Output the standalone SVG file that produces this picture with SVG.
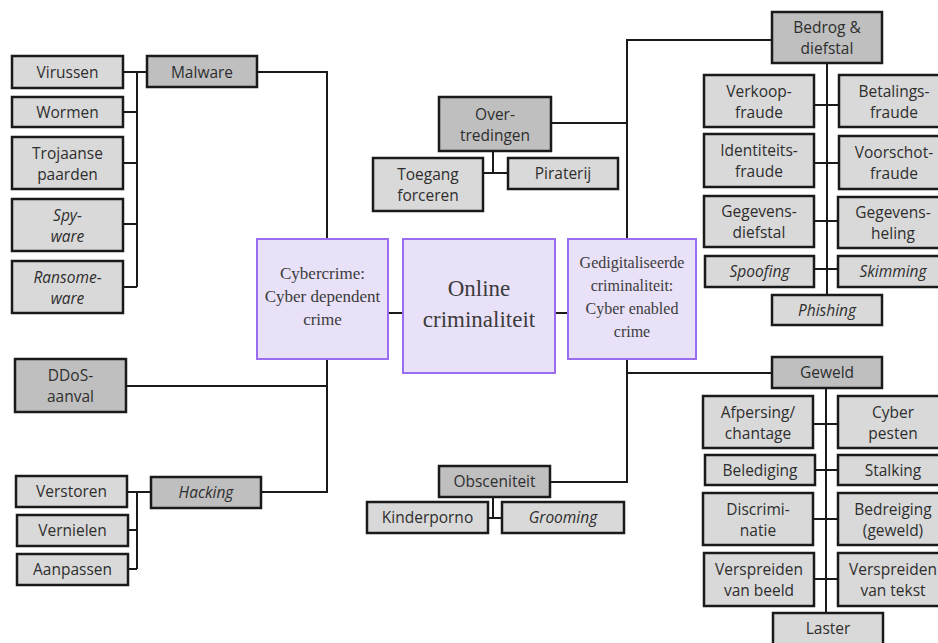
<svg xmlns="http://www.w3.org/2000/svg" width="938" height="643" viewBox="0 0 938 643">
<style>
.lt{fill:#d9d9d9;stroke:#1a1a1a;stroke-width:2.5}
.dk{fill:#bfbfbf;stroke:#1a1a1a;stroke-width:2.5}
.pu{fill:#e8e1f8;stroke:#9a6cf0;stroke-width:2}
.t{font-family:"Open Sans","Noto Sans",sans-serif;font-size:15.5px;fill:#2e2e2e;text-anchor:middle}
.i{font-style:italic}
.s{font-family:"Liberation Serif","Times New Roman",serif;fill:#3c3c3c;text-anchor:middle}
.c{fill:none;stroke:#1a1a1a;stroke-width:2}
</style>
<rect width="938" height="643" fill="#ffffff"/>
<g id="connectors" class="c">
<path d="M257,72 H327 V239"/>
<path d="M123,72 H147 M137,72 V287 M123,112 H137 M123,163 H137 M123,224 H137 M123,287 H137"/>
<path d="M327,359 V492 H261 M126,386 H327"/>
<path d="M127,492 H151 M137,492 V569 M128,530 H137 M128,569 H137"/>
<path d="M388,313 H403 M555,313 H568"/>
<path d="M772,40 H627 V239 M551,123 H627"/>
<path d="M627,359 V482 H550 M627,373 H772"/>
<path d="M493,151 V173 M483,173 H508"/>
<path d="M493,497 V518 M488,518 H502"/>
<path d="M827,63 V295 M814,105 H839 M814,163 H839 M814,221 H838 M814,269 H838"/>
<path d="M826,388 V613 M813,424 H838 M815,470 H838 M813,519 H838 M814,579 H838"/>
</g>
<g id="virussen"><rect class="lt" x="12" y="56" width="111" height="32"/><text class="t" x="67.5" y="78">Virussen</text></g>
<g id="malware"><rect class="dk" x="147" y="56" width="110" height="31"/><text class="t" x="202" y="77.5">Malware</text></g>
<g id="wormen"><rect class="lt" x="12" y="97" width="111" height="30"/><text class="t" x="67.5" y="117.5">Wormen</text></g>
<g id="trojaanse"><rect class="lt" x="12" y="137" width="111" height="52"/><text class="t" x="67.5" y="159">Trojaanse</text><text class="t" x="67.5" y="180">paarden</text></g>
<g id="spyware"><rect class="lt" x="12" y="199" width="111" height="52"/><text class="t i" x="67.5" y="221">Spy-</text><text class="t i" x="67.5" y="242">ware</text></g>
<g id="ransomeware"><rect class="lt" x="12" y="261" width="111" height="52"/><text class="t i" x="67.5" y="283">Ransome-</text><text class="t i" x="67.5" y="304">ware</text></g>
<g id="ddos"><rect class="dk" x="15" y="359" width="111" height="53"/><text class="t" x="70.5" y="381">DDoS-</text><text class="t" x="70.5" y="402">aanval</text></g>
<g id="hacking"><rect class="dk" x="151" y="477" width="110" height="31"/><text class="t i" x="206" y="498">Hacking</text></g>
<g id="verstoren"><rect class="lt" x="16" y="476" width="111" height="31"/><text class="t" x="71.5" y="497">Verstoren</text></g>
<g id="vernielen"><rect class="lt" x="17" y="515" width="111" height="31"/><text class="t" x="72.5" y="536">Vernielen</text></g>
<g id="aanpassen"><rect class="lt" x="17" y="554" width="111" height="31"/><text class="t" x="72.5" y="575">Aanpassen</text></g>
<g id="cybercrime"><rect class="pu" x="257" y="239" width="131" height="120"/><text class="s" font-size="17" x="322.5" y="279">Cybercrime:</text><text class="s" font-size="17" x="322.5" y="302">Cyber dependent</text><text class="s" font-size="17" x="322.5" y="325">crime</text></g>
<g id="online"><rect class="pu" x="403" y="239" width="152" height="134"/><text class="s" font-size="23" x="479" y="296">Online</text><text class="s" font-size="23" x="479" y="327">criminaliteit</text></g>
<g id="gedigitaliseerde"><rect class="pu" x="568" y="239" width="128" height="120"/><text class="s" font-size="16" x="632" y="268">Gedigitaliseerde</text><text class="s" font-size="16" x="632" y="291">criminaliteit:</text><text class="s" font-size="16" x="632" y="314">Cyber enabled</text><text class="s" font-size="16" x="632" y="337">crime</text></g>
<g id="overtredingen"><rect class="dk" x="439" y="97" width="112" height="54"/><text class="t" x="495" y="120">Over-</text><text class="t" x="495" y="141">tredingen</text></g>
<g id="toegang"><rect class="lt" x="373" y="158" width="110" height="53"/><text class="t" x="428" y="180">Toegang</text><text class="t" x="428" y="201">forceren</text></g>
<g id="piraterij"><rect class="lt" x="508" y="158" width="110" height="31"/><text class="t" x="563" y="179">Piraterij</text></g>
<g id="obsceniteit"><rect class="dk" x="439" y="466" width="111" height="31"/><text class="t" x="494.5" y="487">Obsceniteit</text></g>
<g id="kinderporno"><rect class="lt" x="367" y="502" width="121" height="31"/><text class="t" x="427.5" y="523">Kinderporno</text></g>
<g id="grooming"><rect class="lt" x="502" y="502" width="122" height="31"/><text class="t i" x="563" y="523">Grooming</text></g>
<g id="bedrog"><rect class="dk" x="772" y="12" width="110" height="51"/><text class="t" x="827" y="33">Bedrog &amp;</text><text class="t" x="827" y="54">diefstal</text></g>
<g id="verkoop"><rect class="lt" x="704" y="75" width="110" height="52"/><text class="t" x="759" y="97">Verkoop-</text><text class="t" x="759" y="118">fraude</text></g>
<g id="betalings"><rect class="lt" x="839" y="75" width="110" height="52"/><text class="t" x="894" y="97">Betalings-</text><text class="t" x="894" y="118">fraude</text></g>
<g id="identiteits"><rect class="lt" x="704" y="134" width="110" height="53"/><text class="t" x="759" y="156">Identiteits-</text><text class="t" x="759" y="177">fraude</text></g>
<g id="voorschot"><rect class="lt" x="839" y="136" width="110" height="53"/><text class="t" x="894" y="158">Voorschot-</text><text class="t" x="894" y="179">fraude</text></g>
<g id="gegevensdiefstal"><rect class="lt" x="704" y="196" width="110" height="51"/><text class="t" x="759" y="217">Gegevens-</text><text class="t" x="759" y="238">diefstal</text></g>
<g id="gegevensheling"><rect class="lt" x="838" y="197" width="110" height="51"/><text class="t" x="893" y="218">Gegevens-</text><text class="t" x="893" y="239">heling</text></g>
<g id="spoofing"><rect class="lt" x="705" y="256" width="109" height="31"/><text class="t i" x="759.5" y="277">Spoofing</text></g>
<g id="skimming"><rect class="lt" x="838" y="256" width="110" height="31"/><text class="t i" x="893" y="277">Skimming</text></g>
<g id="phishing"><rect class="lt" x="772" y="295" width="110" height="30"/><text class="t i" x="827" y="315.5">Phishing</text></g>
<g id="geweld"><rect class="dk" x="772" y="357" width="110" height="31"/><text class="t" x="827" y="378">Geweld</text></g>
<g id="afpersing"><rect class="lt" x="703" y="396" width="110" height="52"/><text class="t" x="758" y="418">Afpersing/</text><text class="t" x="758" y="439">chantage</text></g>
<g id="cyberpesten"><rect class="lt" x="838" y="396" width="110" height="52"/><text class="t" x="893" y="418">Cyber</text><text class="t" x="893" y="439">pesten</text></g>
<g id="belediging"><rect class="lt" x="705" y="455" width="110" height="30"/><text class="t" x="760" y="475.5">Belediging</text></g>
<g id="stalking"><rect class="lt" x="838" y="455" width="110" height="30"/><text class="t" x="893" y="475.5">Stalking</text></g>
<g id="discriminatie"><rect class="lt" x="703" y="493" width="110" height="52"/><text class="t" x="758" y="515">Discrimi-</text><text class="t" x="758" y="536">natie</text></g>
<g id="bedreiging"><rect class="lt" x="838" y="493" width="110" height="52"/><text class="t" x="893" y="515">Bedreiging</text><text class="t" x="893" y="536">(geweld)</text></g>
<g id="verspreidenbeeld"><rect class="lt" x="704" y="553" width="110" height="53"/><text class="t" x="759" y="575">Verspreiden</text><text class="t" x="759" y="596">van beeld</text></g>
<g id="verspreidentekst"><rect class="lt" x="838" y="553" width="110" height="53"/><text class="t" x="893" y="575">Verspreiden</text><text class="t" x="893" y="596">van tekst</text></g>
<g id="laster"><rect class="lt" x="773" y="613" width="110" height="40"/><text class="t" x="828" y="634">Laster</text></g>
</svg>
